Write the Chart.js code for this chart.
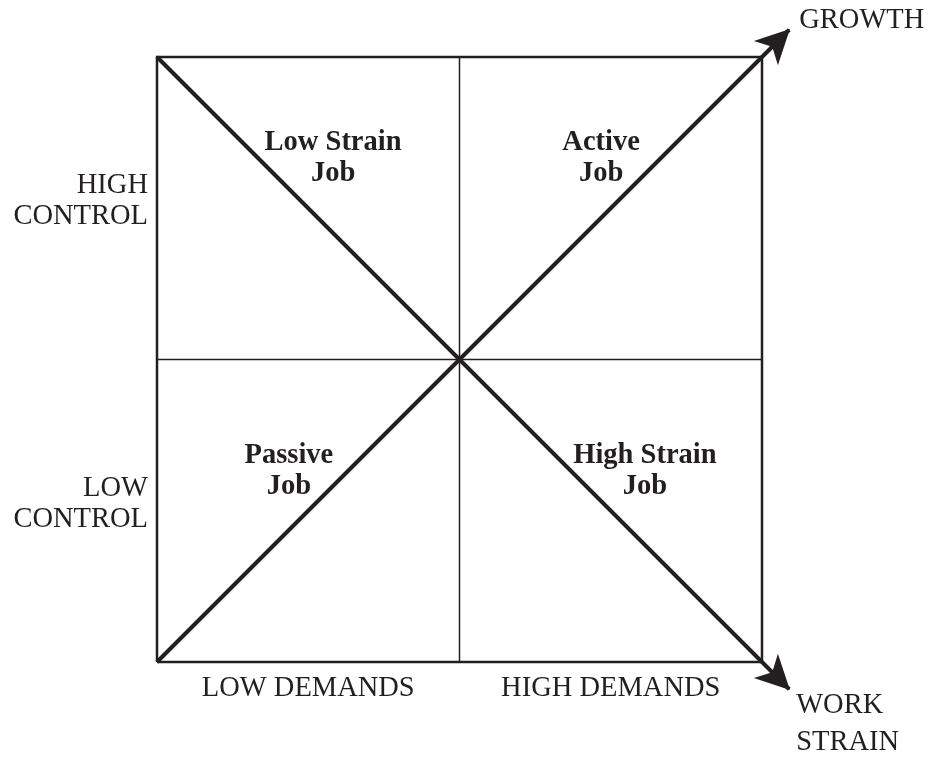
<!DOCTYPE html>
<html>
<head>
<meta charset="utf-8">
<script src="https://cdn.jsdelivr.net/npm/chart.js@4/dist/chart.umd.min.js"></script>
<style>
  html, body { margin: 0; padding: 0; background: #fff; }
  #wrap { width: 929px; height: 757px; position: relative; }
</style>
</head>
<body>
<div id="wrap"><canvas id="chart"></canvas></div>
<script>
// axis categories
const demandLabels = ["LOW DEMANDS", "HIGH DEMANDS"];
const demandTicks = [0.5, 1.5];
const controlLabels = [["LOW", "CONTROL"], ["HIGH", "CONTROL"]];
const controlTicks = [0.5, 1.5];

// quadrant names
const quadrantNames = [
  ["Low Strain", "Job"],
  ["Active", "Job"],
  ["Passive", "Job"],
  ["High Strain", "Job"],
];

// diagonal series (end point = arrow tip)
const growthX = [0, 2.09];
const growthY = [0, 2.09];
const strainX = [0, 2.09];
const strainY = [2, -0.09];

// box outline and dividers
const boxX = [0, 2, 2, 0, 0];
const boxY = [0, 0, 2, 2, 0];
const vDivX = [1, 1];
const vDivY = [0, 2];
const hDivX = [0, 2];
const hDivY = [1, 1];

const INK = "#231f20";
const SERIF = "'Liberation Serif', 'Times New Roman', serif";

const pts = (xs, ys) => xs.map((x, i) => ({ x: x, y: ys[i] }));

const lineSet = (label, xs, ys, width) => ({
  label: label,
  data: pts(xs, ys),
  showLine: true,
  borderColor: INK,
  borderWidth: width,
  pointRadius: 0,
  pointHoverRadius: 0,
  fill: false,
  tension: 0,
  clip: false,
});

// quadrant text, end labels and arrowheads
const diagramText = {
  id: "diagramText",
  afterDatasetsDraw(chart, args, opts) {
    const ctx = chart.ctx;
    const xs = chart.scales.x;
    const ys = chart.scales.y;
    ctx.save();
    ctx.fillStyle = INK;

    // arrowheads at the last point of each diagonal
    [0, 1].forEach((di) => {
      const meta = chart.getDatasetMeta(di);
      const tip = meta.data[meta.data.length - 1];
      const prev = meta.data[0];
      const ang = Math.atan2(tip.y - prev.y, tip.x - prev.x);
      const len = 34, half = 17, notch = 9;
      ctx.save();
      ctx.translate(tip.x + Math.cos(ang) * 1, tip.y + Math.sin(ang) * 1);
      ctx.rotate(ang);
      ctx.beginPath();
      ctx.moveTo(0, 0);
      ctx.lineTo(-len, -half);
      ctx.lineTo(-len + notch, 0);
      ctx.lineTo(-len, half);
      ctx.closePath();
      ctx.fill();
      ctx.restore();
    });

    // quadrant labels
    ctx.font = "bold 28.5px " + SERIF;
    ctx.textAlign = "center";
    ctx.textBaseline = "alphabetic";
    quadrantNames.forEach((lines, i) => {
      const px = xs.getPixelForValue(opts.quadX[i]);
      const py = ys.getPixelForValue(opts.quadY[i]);
      lines.forEach((t, j) => ctx.fillText(t, px, py + j * 31));
    });

    // arrow end labels
    ctx.font = "28.5px " + SERIF;
    ctx.textAlign = "left";
    const g = chart.getDatasetMeta(0).data[1];
    ctx.fillText("GROWTH", g.x + 10, g.y - 2);
    const s = chart.getDatasetMeta(1).data[1];
    ctx.fillText("WORK", s.x + 7, s.y + 24);
    ctx.fillText("STRAIN", s.x + 7, s.y + 61);
    ctx.restore();
  },
};

new Chart(document.getElementById("chart"), {
  type: "scatter",
  data: {
    datasets: [
      lineSet("Growth", growthX, growthY, 4),
      lineSet("Work strain", strainX, strainY, 4),
      lineSet("Box", boxX, boxY, 2.5),
      lineSet("Demands divider", vDivX, vDivY, 1.5),
      lineSet("Control divider", hDivX, hDivY, 1.5),
    ],
  },
  options: {
    responsive: true,
    maintainAspectRatio: false,
    animation: false,
    events: [],
    layout: { padding: { top: 57, right: 167, left: 0, bottom: 0 } },
    scales: {
      x: {
        type: "linear",
        min: 0,
        max: 2,
        border: { display: false },
        grid: { display: false, drawTicks: false },
        afterBuildTicks: (axis) => {
          axis.ticks = demandTicks.map((v) => ({ value: v }));
        },
        afterFit: (axis) => {
          axis.height = 95;
        },
        ticks: {
          autoSkip: false,
          maxRotation: 0,
          padding: 9,
          color: INK,
          font: { family: SERIF, size: 28.5 },
          callback: (v) => demandLabels[demandTicks.indexOf(v)],
        },
      },
      y: {
        type: "linear",
        min: 0,
        max: 2,
        border: { display: false },
        grid: { display: false, drawTicks: false },
        afterBuildTicks: (axis) => {
          axis.ticks = controlTicks.map((v) => ({ value: v }));
        },
        afterFit: (axis) => {
          axis.width = 157;
        },
        ticks: {
          autoSkip: false,
          padding: 9,
          labelOffset: -7,
          color: INK,
          font: { family: SERIF, size: 28.5, lineHeight: 1.1 },
          callback: (v) => controlLabels[controlTicks.indexOf(v)],
        },
      },
    },
    plugins: {
      legend: { display: false },
      tooltip: { enabled: false },
      diagramText: {
        quadX: [0.582, 1.468, 0.436, 1.613],
        quadY: [1.693, 1.693, 0.658, 0.658],
      },
    },
  },
  plugins: [diagramText],
});
</script>
</body>
</html>
